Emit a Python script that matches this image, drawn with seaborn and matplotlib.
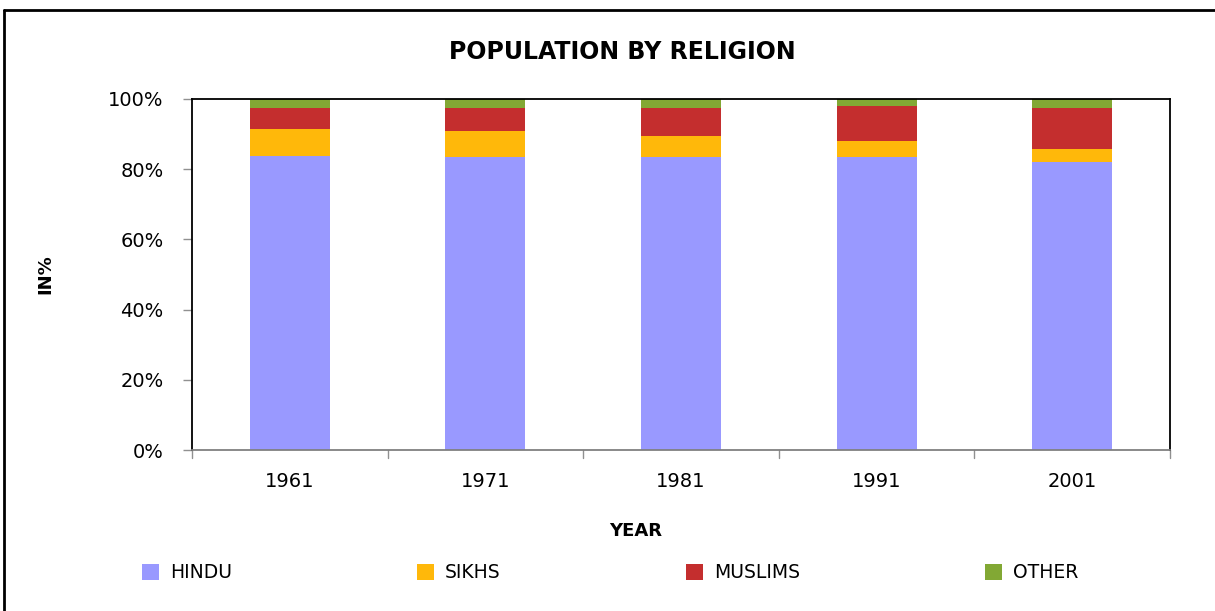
import numpy as np
import pandas as pd
import matplotlib
matplotlib.use("Agg")
import matplotlib.pyplot as plt
from matplotlib.lines import Line2D
from matplotlib.patches import Patch
from matplotlib.ticker import PercentFormatter
import seaborn as sns

years = ["1961", "1971", "1981", "1991", "2001"]
hindu = [83.8, 83.5, 83.5, 83.5, 82.1]
sikhs = [7.7, 7.4, 6.0, 4.5, 3.7]
muslims = [6.0, 6.6, 8.0, 10.1, 11.7]
other = [2.5, 2.5, 2.5, 1.9, 2.5]

series = ["HINDU", "SIKHS", "MUSLIMS", "OTHER"]
colors = ["#9999FF", "#FFB80A", "#C42E2E", "#82A834"]

df = pd.DataFrame({"year": years, "HINDU": hindu, "SIKHS": sikhs,
                   "MUSLIMS": muslims, "OTHER": other})
cum = df[series].cumsum(axis=1)
cum["year"] = df["year"]

sns.set_style("white")
plt.rcParams["font.family"] = ["DejaVu Sans"]
plt.rcParams["text.color"] = "black"
plt.rcParams["axes.labelcolor"] = "black"
plt.rcParams["xtick.color"] = "black"
plt.rcParams["ytick.color"] = "black"

fig = plt.figure(figsize=(12.15, 6.11), dpi=100)
ax = fig.add_axes([192 / 1215, 1 - 450 / 611, 978 / 1215, 351 / 611])

# stacked bars: draw cumulative totals from top down
for name, col in reversed(list(zip(series, colors))):
    sns.barplot(data=cum, x="year", y=name, color=col, width=0.41,
                saturation=1, ax=ax, linewidth=0)

ax.set_xlim(-0.5, 4.5)
ax.set_ylim(0, 100)
ax.set_yticks([0, 20, 40, 60, 80, 100])
ax.yaxis.set_major_formatter(PercentFormatter(decimals=0))
ax.set_xticks(np.arange(5))
ax.set_xticklabels(years)
ax.tick_params(axis="x", length=0, pad=16, labelsize=14)
ax.tick_params(axis="y", length=6.5, width=1, left=True, color="#909090", pad=14, labelsize=14)
for b in np.arange(-0.5, 5, 1):
    ax.plot([b, b], [0, -2.3], color="#909090", lw=1, clip_on=False)

for s in ["top", "right", "left"]:
    ax.spines[s].set_color("black")
    ax.spines[s].set_linewidth(1.3)
ax.spines["bottom"].set_color("#808080")
ax.spines["bottom"].set_linewidth(1.3)

ax.set_xlabel("YEAR", fontsize=13, fontweight="bold")
ax.xaxis.set_label_coords(0.454, -0.205)
ax.set_ylabel("IN%", fontsize=13, fontweight="bold")
ax.yaxis.set_label_coords(-0.141, 0.5)

fig.text(622 / 1215, 1 - 52 / 611, "POPULATION BY RELIGION", ha="center", va="center",
         fontsize=17, fontweight="bold")

handles = [Patch(facecolor=c, edgecolor="none") for c in colors]
fig.legend(handles, series, loc="center", bbox_to_anchor=(610 / 1215, 1 - 573 / 611),
           ncol=4, frameon=False, fontsize=13.5, handlelength=0.9, handleheight=0.9,
           handletextpad=0.6, columnspacing=9.87)

# outer frame
fig.add_artist(Line2D([4 / 1215, 4 / 1215], [0, 1 - 10 / 611], color="black", lw=2,
                      transform=fig.transFigure))
fig.add_artist(Line2D([4 / 1215, 1], [1 - 10 / 611, 1 - 10 / 611], color="black", lw=2,
                      transform=fig.transFigure))

fig.savefig("out.png", dpi=100)
